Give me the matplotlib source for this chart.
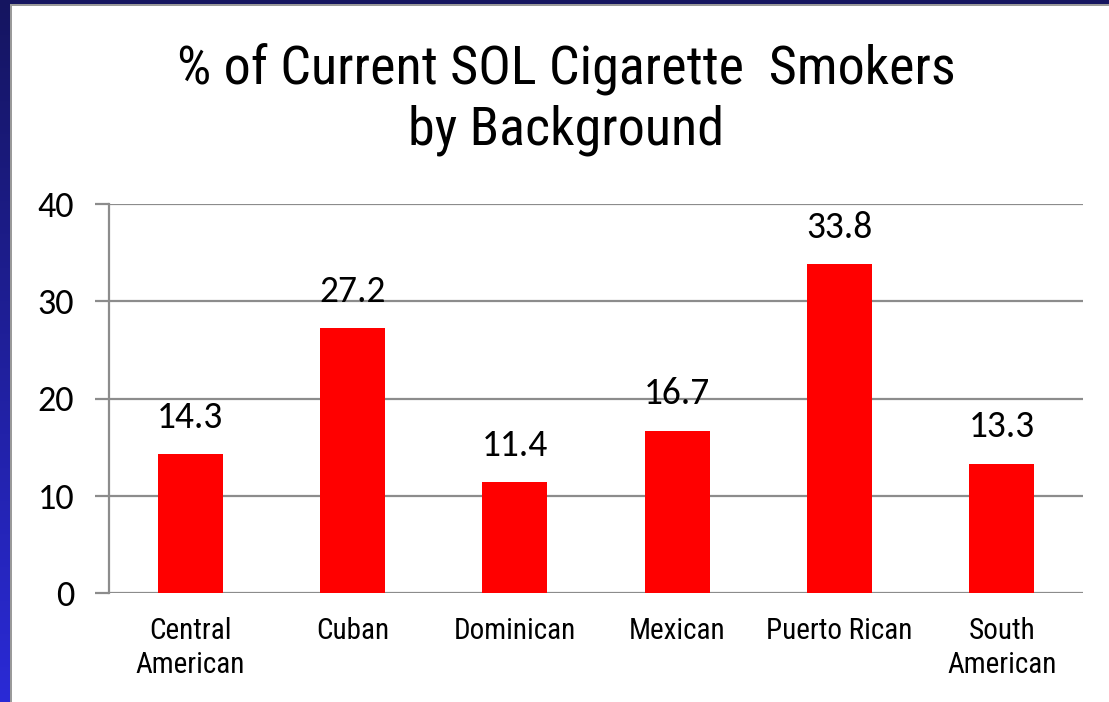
import matplotlib
matplotlib.use("Agg")
import matplotlib.pyplot as plt
import numpy as np
from matplotlib.colors import LinearSegmentedColormap

categories = ["Central\nAmerican", "Cuban", "Dominican", "Mexican", "Puerto Rican", "South\nAmerican"]
values = [14.3, 27.2, 11.4, 16.7, 33.8, 13.3]
yticks = [0, 10, 20, 30, 40]
title_lines = ["% of Current SOL Cigarette  Smokers", "by Background"]

narrow = ["Roboto Condensed", "Archivo Narrow", "DejaVu Sans"]
numfont = ["Carlito", "Open Sans", "DejaVu Sans"]

W, H = 1109, 702
fig = plt.figure(figsize=(W / 100, H / 100), dpi=100)

# slide background
bg = fig.add_axes([0, 0, 1, 1], zorder=-5)
bg.set_xlim(0, W)
bg.set_ylim(H, 0)
bg.axis("off")
grad = np.linspace(0, 1, 256).reshape(-1, 1)
cmap = LinearSegmentedColormap.from_list("b", ["#151560", "#2a2ad6"])
bg.imshow(grad, extent=(0, 10, H, 0), cmap=cmap, aspect="auto")
bg.add_patch(plt.Rectangle((0, 0), W, 4, color="#151560", lw=0))
bg.add_patch(plt.Rectangle((10, 4), W, H, color="#9a9a9a", lw=0))
bg.add_patch(plt.Rectangle((12, 6), W, H, color="white", lw=0))

ax = fig.add_axes([109 / W, (H - 593) / H, (1083 - 109) / W, (593 - 204) / H])
ax.set_facecolor("none")
x = np.arange(len(categories))
ax.bar(x, values, width=0.4, color="#ff0000", zorder=3)
for xi, v in zip(x, values):
    ax.annotate(f"{v}", (xi, v), xytext=(0, 19), textcoords="offset points",
                ha="center", va="baseline", fontsize=27, family=numfont, color="black")

ax.set_xlim(-0.5, len(categories) - 0.5)
ax.set_ylim(0, 40)
ax.set_yticks(yticks)
ax.set_yticklabels([str(t) for t in yticks], fontsize=26, family=numfont)
ax.set_xticks(x)
ax.set_xticklabels(categories, fontsize=21, family=narrow, linespacing=1.28)
ax.tick_params(axis="x", length=0, pad=17)
ax.tick_params(axis="y", length=10, width=1.6, color="#8c8c8c", pad=15)
ax.yaxis.grid(True, color="#8c8c8c", lw=1.6, zorder=0)
for s in ["top", "right", "bottom"]:
    ax.spines[s].set_visible(False)
ax.spines["left"].set_color("#8c8c8c")
ax.spines["left"].set_linewidth(1.6)

for line, base in zip(title_lines, [84, 145]):
    fig.text(566 / W, 1 - base / H, line, ha="center", va="baseline", fontsize=39,
             family=narrow)

fig.savefig("out.png", dpi=100)
